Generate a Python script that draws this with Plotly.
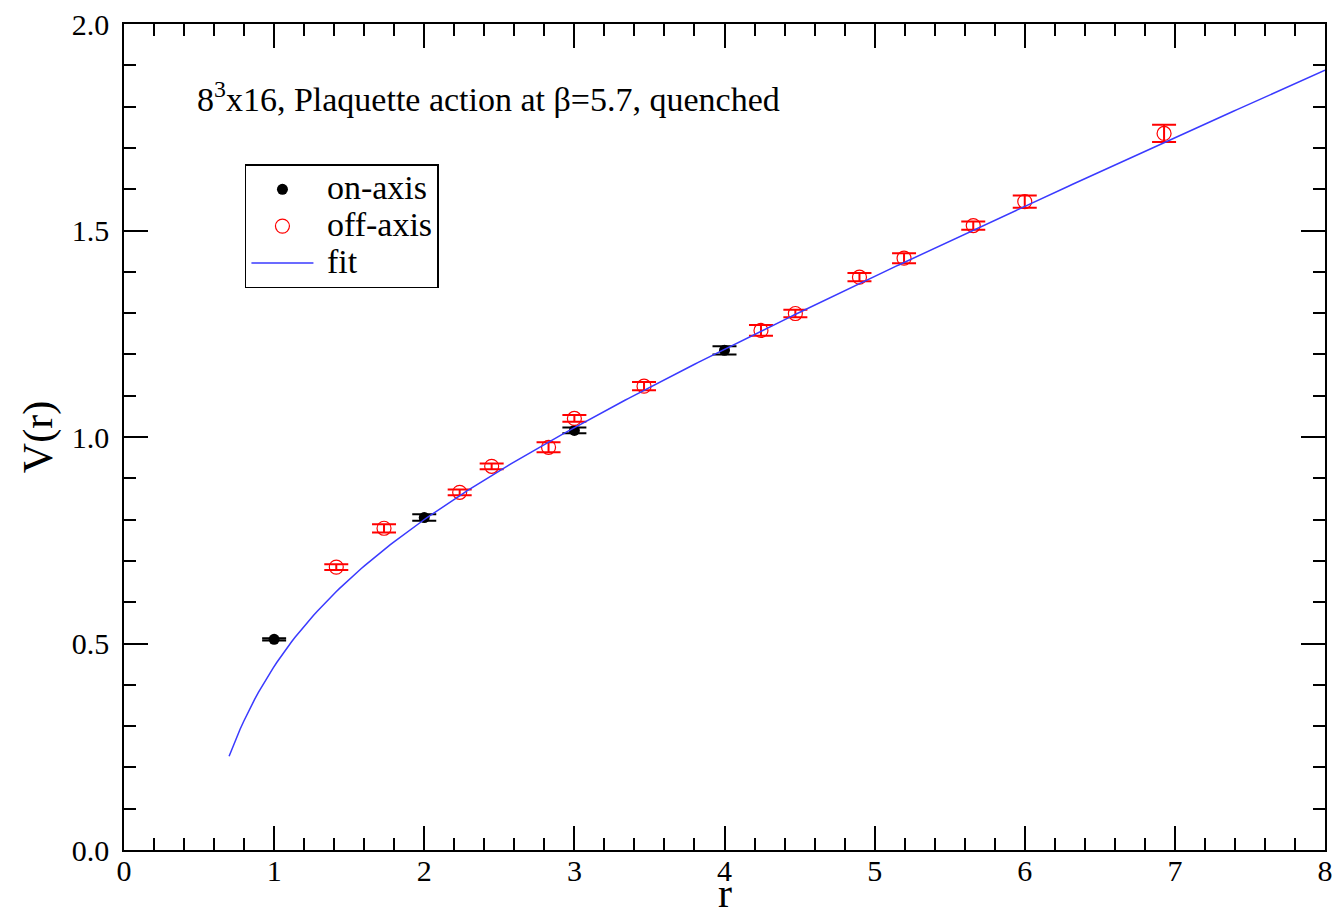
import plotly.graph_objects as go
import numpy as np

# On-axis data
r_on = [1.0, 2.0, 3.0, 4.0]
v_on = [0.510, 0.805, 1.016, 1.210]
e_on = [0.003, 0.008, 0.007, 0.010]

# Off-axis data
r_off = [1.414, 1.732, 2.236, 2.449, 2.828, 3.0, 3.464, 4.243, 4.472, 4.899, 5.196, 5.657, 6.0, 6.928]
v_off = [0.685, 0.779, 0.866, 0.929, 0.975, 1.045, 1.123, 1.258, 1.299, 1.387, 1.433, 1.512, 1.570, 1.735]
e_off = [0.007, 0.010, 0.007, 0.007, 0.012, 0.008, 0.010, 0.013, 0.009, 0.010, 0.012, 0.010, 0.015, 0.021]

# Fit parameters V(r) = V0 + sigma*r - e/r
fit_V0 = 0.686
fit_sigma = 0.1565
fit_e = 0.398
fit_rmin, fit_rmax = 0.7, 8.0

r_fit = np.linspace(fit_rmin, fit_rmax, 300)
v_fit = fit_V0 + fit_sigma * r_fit - fit_e / r_fit

FONT = "Liberation Serif"
LEG = '<span style="font-size:34px">\u00a0%s</span>'

fig = go.Figure()
fig.add_trace(go.Scatter(
    x=r_on, y=v_on, mode="markers", name=LEG % "on-axis",
    marker=dict(symbol="circle", size=11, color="black"),
    error_y=dict(type="data", array=e_on, color="black", thickness=2, width=12),
))
fig.add_trace(go.Scatter(
    x=r_off, y=v_off, mode="markers", name=LEG % "off-axis",
    marker=dict(symbol="circle-open", size=14, color="red", line=dict(width=1.2)),
    error_y=dict(type="data", array=e_off, color="red", thickness=2, width=12),
))
fig.add_trace(go.Scatter(
    x=r_fit, y=v_fit, mode="lines", name=LEG % "fit",
    line=dict(color="#3a3aff", width=1.5),
))

axis_common = dict(
    showline=True, linecolor="black", linewidth=1.5, mirror="ticks",
    ticks="inside", ticklen=24, tickwidth=1.5, tickcolor="black",
    showgrid=False, zeroline=False, automargin=False,
    tickfont=dict(family=FONT, size=30, color="black"),
)

fig.update_xaxes(
    range=[0, 8], dtick=1, tick0=0, ticklabelstandoff=-7,
    minor=dict(dtick=0.2, ticklen=12, tickwidth=1.5, tickcolor="black", ticks="inside", showgrid=False),
    **axis_common,
)
fig.update_yaxes(
    range=[0, 2], dtick=0.5, tick0=0, tickformat=".1f", ticklabelstandoff=7,
    minor=dict(dtick=0.1, ticklen=12, tickwidth=1.5, tickcolor="black", ticks="inside", showgrid=False),
    title=dict(text="V(r)", font=dict(family=FONT, size=42, color="black"), standoff=6),
    **axis_common,
)

# x-axis title
fig.add_annotation(
    xref="paper", yref="paper", x=0.5, y=-0.0815, xanchor="center", yanchor="bottom",
    text="r", showarrow=False, font=dict(family=FONT, size=42, color="black"),
    borderpad=0,
)

fig.add_annotation(
    xref="paper", yref="paper", x=0.059, y=0.912, xanchor="left", yanchor="middle",
    text="8<sup>3</sup>x16, Plaquette action at β=5.7, quenched",
    showarrow=False, font=dict(family=FONT, size=34, color="black"),
)

fig.update_layout(
    width=1339, height=918,
    margin=dict(l=124, r=14, t=24, b=68),
    plot_bgcolor="white", paper_bgcolor="white",
    showlegend=True,
    legend=dict(
        x=0.1007, y=0.830, xanchor="left", yanchor="top",
        bordercolor="black", borderwidth=1.5, bgcolor="white",
        font=dict(family=FONT, size=26, color="black"),
        tracegroupgap=0, itemwidth=62,
    ),
)

fig.write_html("out.html", config={"displayModeBar": False})

with open("out.html", "r", encoding="utf-8") as f:
    html = f.read()
html = html.replace("<head>", "<head><style>html,body{margin:0;padding:0;overflow:hidden;}</style>", 1)
with open("out.html", "w", encoding="utf-8") as f:
    f.write(html)
